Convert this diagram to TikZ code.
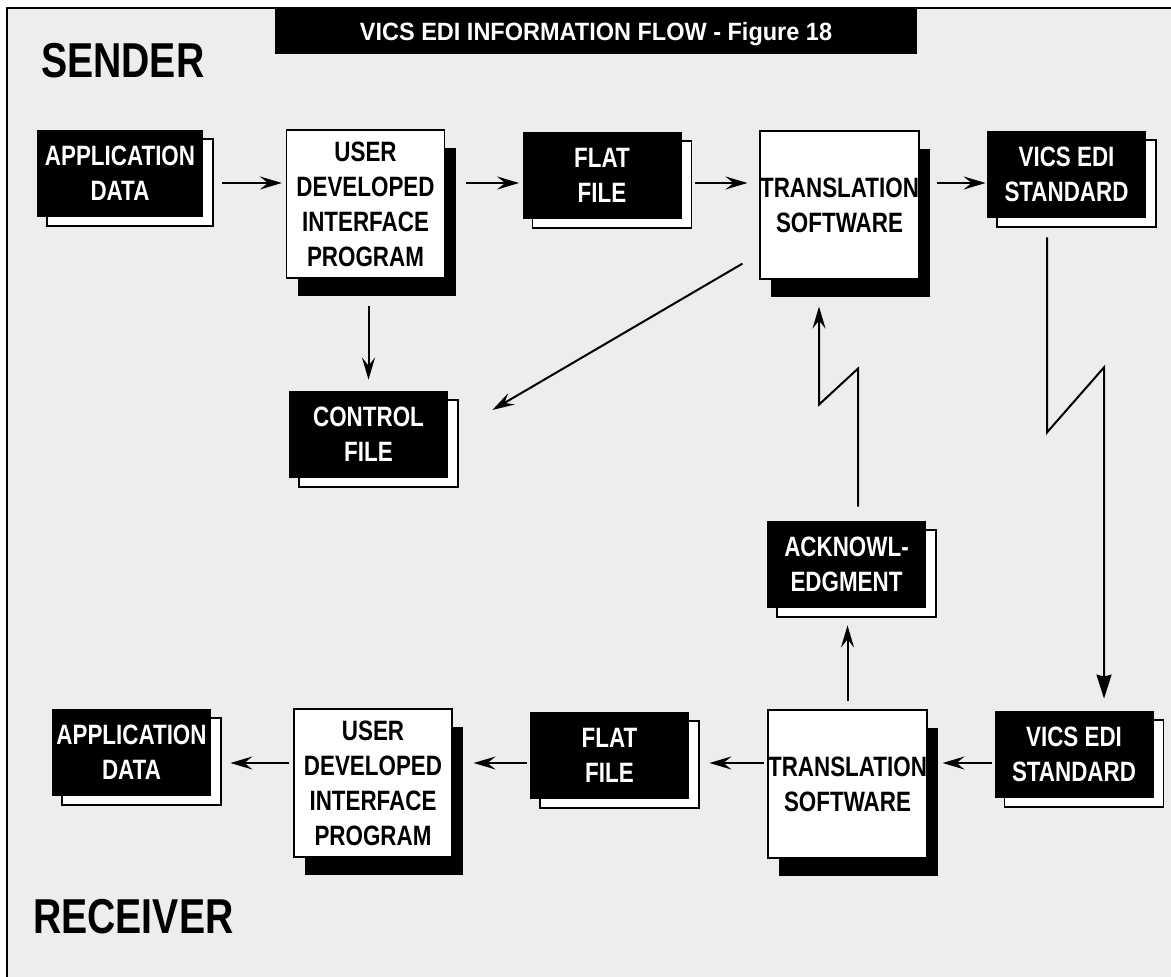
\documentclass[tikz,border=0pt]{standalone}
\usepackage{fontspec}
\setmainfont{Liberation Sans}[FakeStretch=0.8]
\newfontfamily\titlefont{Liberation Sans}[FakeStretch=0.94]
\usepackage{tikz}
\usetikzlibrary{arrows.meta, calc, shadows}
\definecolor{panel}{HTML}{EDEDED}

\tikzset{
  boxfont/.style={font=\fontsize{14}{17.5}\selectfont\bfseries},
  dark/.style={boxfont, fill=black, text=white, align=center, inner sep=0pt,
    minimum width=79.5pt, minimum height=43.5pt,
    general shadow={shadow xshift=5pt, shadow yshift=-4.5pt, opacity=1,
      fill=white, draw=black, line width=0.9pt}},
  light/.style={boxfont, fill=white, draw=black, line width=0.6pt, text=black,
    align=center, inner sep=0pt, minimum width=79pt, minimum height=74pt,
    general shadow={shadow xshift=5.5pt, shadow yshift=-9pt, opacity=1, fill=black}},
  flow/.style={line width=1pt, -{Stealth[length=11pt, width=6.5pt, inset=4pt]}},
  flowdown/.style={line width=1pt, -{Stealth[length=12pt, width=7.5pt, inset=1pt]}},
  side/.style={anchor=base west, font=\fontsize{24.5}{29}\selectfont\bfseries}
}

\begin{document}
\begin{tikzpicture}[x=0.5pt, y=-0.5pt, >=Stealth]
  \useasboundingbox (0,0) rectangle (1171,977);
  % Rahmen
  \fill[panel] (7,8) rectangle (1171,977);
  \draw[line width=1pt] (7,977) -- (7,8) -- (1171,8);
  % Titel
  \node[fill=black, text=white, minimum width=321pt, minimum height=22.5pt,
    text height=9pt, text depth=0pt, inner sep=0pt,
    font=\titlefont\fontsize{12.5}{15}\selectfont\bfseries] (title) at (596,31.5)
    {VICS EDI INFORMATION FLOW - Figure 18};
  \node[side] (sender) at (34,78) {SENDER};
  \node[side] (receiver) at (26,933) {RECEIVER};
  \coordinate (top) at (0,183);
  \coordinate (bot) at (0,763);

  % Sender
  \node[dark, minimum width=83pt] (app) at (120,173.5) {APPLICATION\\DATA};
  \node[light] (udip) at (365.5,204) {USER\\DEVELOPED\\INTERFACE\\PROGRAM};
  \node[dark] (flat) at (602,175.5) {FLAT\\FILE};
  \node[light] (trans) at (839.5,205) {TRANSLATION\\SOFTWARE};
  \node[dark] (vics) at (1066.5,174.5) {VICS EDI\\STANDARD};
  \node[dark] (ctrl) at (368.5,434.5) {CONTROL\\FILE};
  \node[dark] (ack) at (846.5,564.5) {ACKNOWL-\\EDGMENT};

  % Receiver
  \node[dark] (rvics) at (1074,754.5) {VICS EDI\\STANDARD};
  \node[light] (rtrans) at (847.5,784) {TRANSLATION\\SOFTWARE};
  \node[dark] (rflat) at (609.5,755.5) {FLAT\\FILE};
  \node[light] (rudip) at (373,783) {USER\\DEVELOPED\\INTERFACE\\PROGRAM};
  \node[dark] (rapp) at (131.5,752.5) {APPLICATION\\DATA};

  % Pfeile oben
  \draw[flow, shorten <=9.5pt, shorten >=2pt] (app.east |- top) -- (udip.west |- top);
  \draw[flow, shorten <=10.5pt, shorten >=1.5pt] (udip.east |- top) -- (flat.west |- top);
  \draw[flow, shorten <=6.5pt, shorten >=6pt] (flat.east |- top) -- (trans.west |- top);
  \draw[flow, shorten <=8.5pt, shorten >=0.5pt] (trans.east |- top) -- (vics.west |- top);
  \draw[flow, shorten <=13.5pt, shorten >=5.5pt] (ctrl.north |- udip.south) -- (ctrl.north);
  \draw[flow] ($(trans.south west)+(-17,-16)$) -- ($(ctrl.east)+(44,-24.5)$);

  % Verbindungen
  \draw[flowdown] ($(vics.south)+(-19.5,19)$) -- ++(0,195) -- ++(57,-65)
    -- ($(rvics.north)+(30,-12)$);
  \draw[flow] ($(ack.north)+(11.5,-14)$) -- ++(0,-138) -- ++(-39,36)
    -- ($(trans.south)+(-20.5,27)$);
  \draw[flow, shorten <=4pt, shorten >=8.5pt] (rtrans.north) -- (rtrans.north |- ack.south);

  % Pfeile unten
  \draw[flow, shorten <=1pt, shorten >=7.5pt] (rvics.west |- bot) -- (rtrans.east |- bot);
  \draw[flow, shorten <=1.5pt, shorten >=10pt] (rtrans.west |- bot) -- (rflat.east |- bot);
  \draw[flow, shorten <=1.5pt, shorten >=10.5pt] (rflat.west |- bot) -- (rudip.east |- bot);
  \draw[flow, shorten <=2pt, shorten >=9.5pt] (rudip.west |- bot) -- (rapp.east |- bot);
\end{tikzpicture}
\end{document}
